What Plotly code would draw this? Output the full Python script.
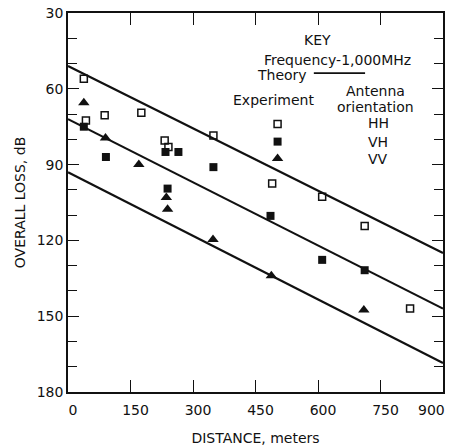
import plotly.graph_objects as go

# ---- data ----
hh_distance = [38, 43, 88, 176, 232, 241, 349, 490, 610, 712, 821]
hh_loss = [56, 72.5, 70.5, 69.5, 80.5, 83, 78.5, 97.5, 102.7, 114.3, 147]

vh_distance = [38, 91, 234, 265, 239, 349, 486, 610, 712]
vh_loss = [75, 87, 85, 85, 99.5, 91, 110.3, 127.7, 131.8]

vv_distance = [38, 90, 170, 236, 239, 348, 488, 710]
vv_loss = [65.5, 79.5, 90, 103, 107.7, 119.6, 134, 147.5]

theory_distance = [0, 900]
theory_upper = [51, 125]
theory_middle = [72, 147]
theory_lower = [93, 168.5]

x_ticks = [0, 150, 300, 450, 600, 750, 900]
x_tick_labels = ["0", "150", "300", "450", "600", "750", "900"]
y_ticks = [30, 60, 90, 120, 150, 180]

FONT = "DejaVu Sans"
BLACK = "#111111"

fig = go.Figure()

for ys in (theory_upper, theory_middle, theory_lower):
    fig.add_trace(go.Scatter(x=theory_distance, y=ys, mode="lines",
                             line=dict(color=BLACK, width=2.2),
                             showlegend=False, hoverinfo="skip"))

fig.add_trace(go.Scatter(x=hh_distance, y=hh_loss, mode="markers", name="HH",
                         marker=dict(symbol="square-open", size=7, color=BLACK,
                                     line=dict(width=1.5, color=BLACK)),
                         showlegend=False))
fig.add_trace(go.Scatter(x=vh_distance, y=vh_loss, mode="markers", name="VH",
                         marker=dict(symbol="square", size=8, color=BLACK),
                         showlegend=False))
fig.add_trace(go.Scatter(x=vv_distance, y=vv_loss, mode="markers", name="VV",
                         marker=dict(symbol="triangle-up", size=10, color=BLACK),
                         showlegend=False))

# key symbols
key_x = 503
fig.add_trace(go.Scatter(x=[key_x], y=[73.9], mode="markers", showlegend=False,
                         marker=dict(symbol="square-open", size=7, color=BLACK,
                                     line=dict(width=1.5, color=BLACK)), hoverinfo="skip"))
fig.add_trace(go.Scatter(x=[key_x], y=[80.9], mode="markers", showlegend=False,
                         marker=dict(symbol="square", size=8, color=BLACK), hoverinfo="skip"))
fig.add_trace(go.Scatter(x=[key_x], y=[87.6], mode="markers", showlegend=False,
                         marker=dict(symbol="triangle-up", size=10, color=BLACK), hoverinfo="skip"))

ann_font = dict(family=FONT, size=14, color=BLACK)
annotations = [
    dict(x=598, y=40.5, text="KEY"),
    dict(x=646, y=48.6, text="Frequency-1,000MHz"),
    dict(x=449, y=54.6, text="Theory", xanchor="left"),
    dict(x=494, y=64.4, text="Experiment"),
    dict(x=737, y=60.9, text="Antenna"),
    dict(x=739, y=67.2, text="orientation"),
    dict(x=744, y=73.7, text="HH"),
    dict(x=744, y=80.9, text="VH"),
    dict(x=744, y=87.8, text="VV"),
]
for a in annotations:
    a.setdefault("xanchor", "center")
    fig.add_annotation(xref="x", yref="y", showarrow=False, yanchor="middle",
                       font=ann_font, **a)

# last x tick label pulled inward, as in the reference
fig.add_annotation(xref="x", yref="paper", x=x_ticks[-1], y=0, yanchor="top",
                   xanchor="right", xshift=4, yshift=-8, showarrow=False,
                   text=x_tick_labels[-1], font=dict(family=FONT, size=14, color=BLACK))

fig.add_shape(type="line", xref="x", yref="y", x0=590, x1=713, y0=53.8, y1=53.8,
              line=dict(color=BLACK, width=1.8))

axis_common = dict(showline=True, linecolor=BLACK, linewidth=1.6, mirror="ticks",
                   ticks="inside", tickcolor=BLACK, showgrid=False, zeroline=False,
                   automargin=False,
                   tickfont=dict(family=FONT, size=14, color=BLACK))

fig.update_xaxes(range=[0, 900], tickvals=x_ticks,
                 ticktext=x_tick_labels[:-1] + [""], ticklabelshift=5,
                 ticklabelstandoff=4,
                 ticklen=12, tickwidth=1.2,
                 title=dict(text="DISTANCE, meters", standoff=18,
                            font=dict(family=FONT, size=14, color=BLACK)),
                 **axis_common)
fig.update_yaxes(range=[180, 30], tickvals=y_ticks, ticklen=11, tickwidth=1.2,
                 minor=dict(dtick=10, tick0=30, ticks="inside", ticklen=9,
                            tickcolor=BLACK, tickwidth=1.2),
                 title=dict(text="OVERALL LOSS, dB", standoff=8,
                            font=dict(family=FONT, size=14, color=BLACK)),
                 **axis_common)

fig.update_layout(width=454, height=446,
                  margin=dict(l=68, r=11, t=13, b=54),
                  plot_bgcolor="white", paper_bgcolor="white",
                  font=dict(family=FONT, color=BLACK))

fig.write_html("out.html", config={"displayModeBar": False},
               post_script="document.body.style.margin='0px';document.body.style.overflow='hidden';")
